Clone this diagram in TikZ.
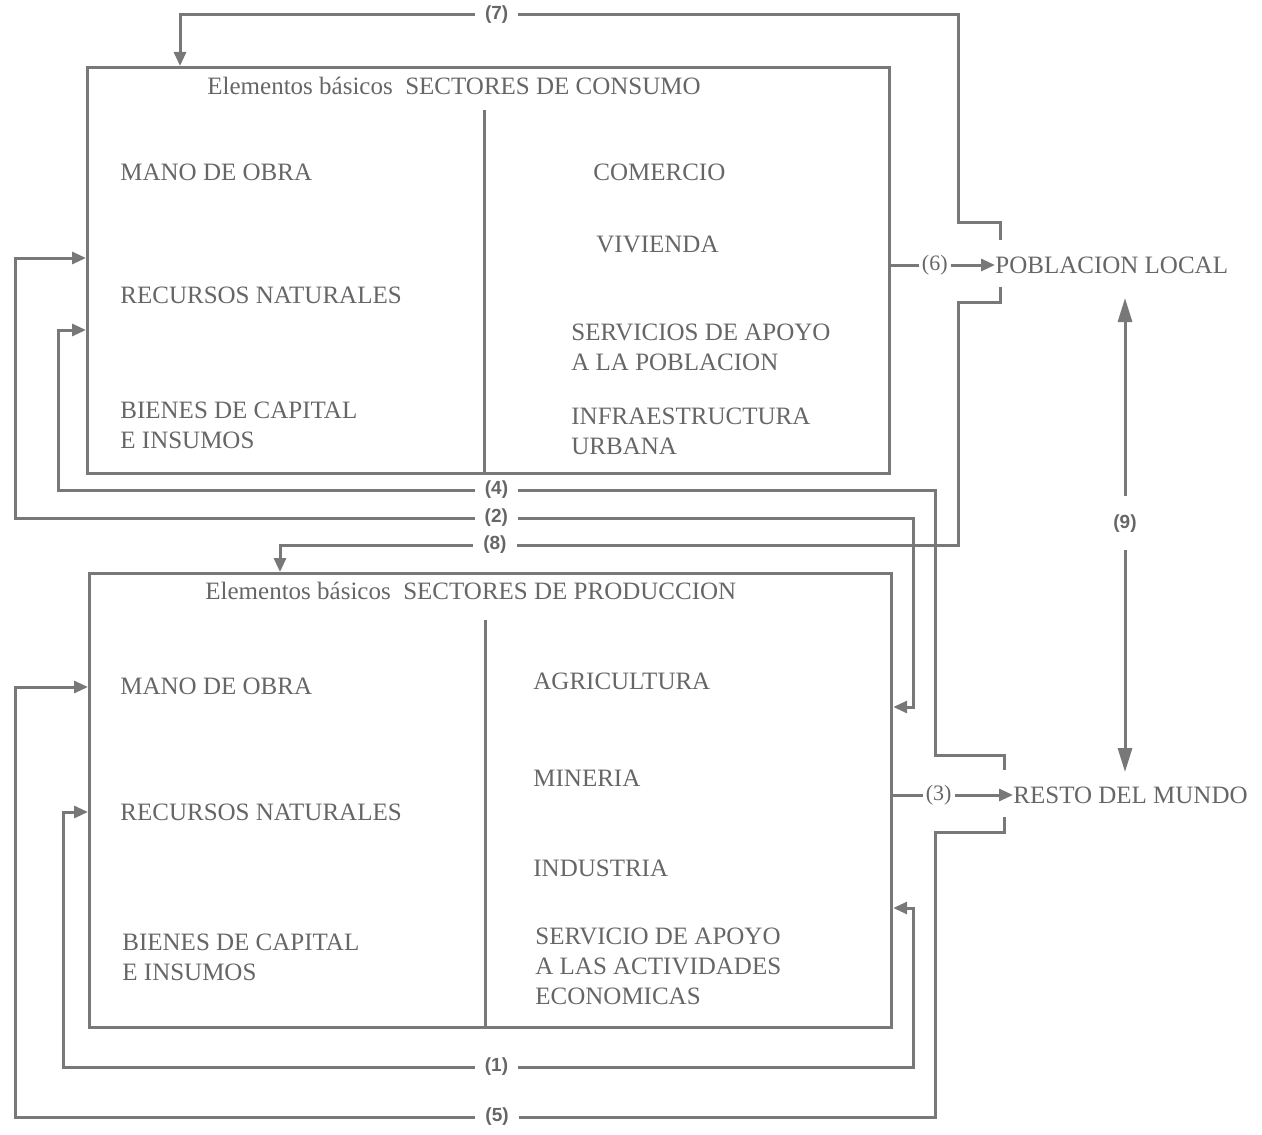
\documentclass[tikz,border=0pt]{standalone}
\usepackage{fontspec}
\setmainfont{Liberation Serif}
\newfontfamily\numfont{Liberation Sans}
\usetikzlibrary{arrows.meta,calc}
\definecolor{ink}{gray}{0.47}
\definecolor{txt}{gray}{0.40}
\begin{document}
\begin{tikzpicture}[x=0.5pt,y=-0.5pt,
  conn/.style={draw=ink, line width=1.5pt, line join=miter},
  arr/.style={-{Triangle[length=7pt,width=6pt]}},
  darr/.style={{Triangle[length=7pt,width=6pt]}-{Triangle[length=7pt,width=6pt]}},
  longdarr/.style={{Triangle[length=12pt,width=7pt]}-{Triangle[length=12pt,width=7pt]}},
  sectorbox/.style={draw=ink, line width=1.6pt, anchor=north west, inner sep=0pt},
  lbl/.style={text=txt, font=\fontsize{12.5}{15}\selectfont, anchor=west, inner sep=0pt, align=left},
  ttl/.style={text=txt, font=\fontsize{12.5}{15}\selectfont, anchor=west, inner sep=0pt},
  num/.style={text=txt, font=\numfont\bfseries\fontsize{9.5}{10}\selectfont, fill=white, inner xsep=5pt, inner ysep=0.5pt},
  snum/.style={text=txt, font=\fontsize{11}{12}\selectfont, fill=white, inner xsep=1.5pt, inner ysep=0.5pt},
]
\useasboundingbox (0,0) rectangle (1262,1134);

% boxes
\node[sectorbox, minimum width=401pt, minimum height=203pt] (top) at (86,66) {};
\node[sectorbox, minimum width=401pt, minimum height=227pt] (bot) at (88,572) {};
\draw[conn] (484,110) -- (484,472);
\draw[conn] (485,620) -- (485,1026);

% top box texts
\node[ttl] (t1) at (207,86) {Elementos básicos\ \ SECTORES DE CONSUMO};
\node[lbl] (tmo) at (120,172) {MANO DE OBRA};
\node[lbl] (trn) at (120,295) {RECURSOS NATURALES};
\node[lbl] (tbc) at (120,425) {BIENES DE CAPITAL\\E INSUMOS};
\node[lbl] (tco) at (593,172) {COMERCIO};
\node[lbl] (tvi) at (596,244) {VIVIENDA};
\node[lbl] (tsa) at (571,347) {SERVICIOS DE APOYO\\A LA POBLACION};
\node[lbl] (tiu) at (571,431) {INFRAESTRUCTURA\\URBANA};

% bottom box texts
\node[ttl] (b1) at (205,591) {Elementos básicos\ \ SECTORES DE PRODUCCION};
\node[lbl] (bmo) at (120,686) {MANO DE OBRA};
\node[lbl] (brn) at (120,812) {RECURSOS NATURALES};
\node[lbl] (bbc) at (122,957) {BIENES DE CAPITAL\\E INSUMOS};
\node[lbl] (bag) at (533,681) {AGRICULTURA};
\node[lbl] (bmi) at (533,778) {MINERIA};
\node[lbl] (bin) at (533,868) {INDUSTRIA};
\node[lbl] (bsa) at (535,966) {SERVICIO DE APOYO\\A LAS ACTIVIDADES\\ECONOMICAS};

% external nodes
\node[lbl] (pob) at (995,265) {POBLACION LOCAL};
\node[lbl] (rdm) at (1013,795) {RESTO DEL MUNDO};

% bracket coordinates
\coordinate (pobA) at (1000,240);
\coordinate (pobB) at (1000,287);
\coordinate (rdmA) at (1004,770);
\coordinate (rdmB) at (1004,817);

% (6)
\draw[conn,arr] (top.east |- pob.west) -- node[snum,pos=0.42]{(6)} (pob.west);
% (3)
\draw[conn,arr] (bot.east |- rdm.west) -- node[snum,pos=0.38]{(3)} (rdm.west);

% (7)
\draw[conn,arr] (pobA) -- (1000,223) -- (958,223) -- (958,15)
  -- node[num,pos=0.593]{(7)} (180,15) -- (top.north -| 180,0);
% (8)
\draw[conn,arr] (pobB) -- (1000,302) -- (958,302) -- (958,545)
  -- node[num,pos=0.683]{(8)} (280,545) -- (bot.north -| 280,0);
% (4)
\draw[conn,arr] (rdmA) -- (1004,755) -- (935,755) -- (935,490)
  -- node[num,pos=0.50]{(4)} (58,490) -- (58,330) -- (top.west |- 0,330);
% (5)
\draw[conn,arr] (rdmB) -- (1004,832) -- (935,832) -- (935,1117)
  -- node[num,pos=0.476]{(5)} (15,1117) -- (15,687) -- (bot.west |- 0,687);
% (2)
\draw[conn,darr] (top.west |- 0,258) -- (15,258) -- (15,518)
  -- node[num,pos=0.536]{(2)} (913,518) -- (913,707) -- (bot.east |- 0,707);
% (1)
\draw[conn,darr] (bot.west |- 0,812) -- (63,812) -- (63,1067)
  -- node[num,pos=0.51]{(1)} (913,1067) -- (913,908) -- (bot.east |- 0,908);

% (9)
\coordinate (nineT) at (1125,298);
\coordinate (nineB) at (1125,772);
\draw[conn,longdarr] (nineT) -- node[num,pos=0.475,inner ysep=9pt]{(9)} (nineB);

\end{tikzpicture}
\end{document}
